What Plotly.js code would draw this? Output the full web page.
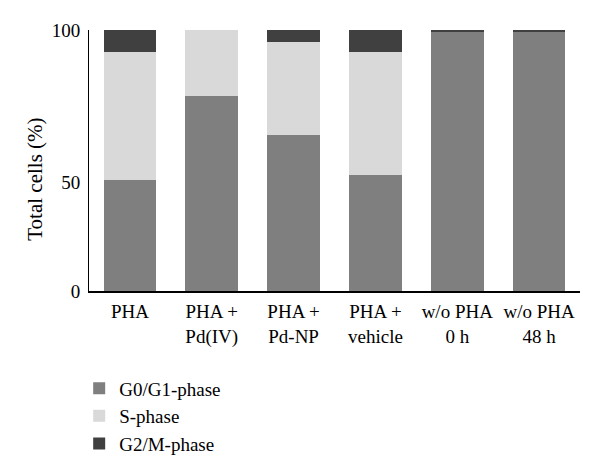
<!DOCTYPE html>
<html><head><meta charset="utf-8">
<script src="https://cdn.plot.ly/plotly-3.0.1.min.js"></script>
<style>html,body{margin:0;padding:0;background:#fff}</style>
</head><body>
<div id="chart" style="width:600px;height:475px"></div>
<script>
const categories = ["PHA", "PHA +<br>Pd(IV)", "PHA +<br>Pd-NP", "PHA +<br>vehicle", "w/o PHA<br>0 h", "w/o PHA<br>48 h"];
const g0g1 = [42.7, 74.8, 59.6, 44.5, 99.2, 99.2];
const sPhase = [49.0, 25.2, 35.7, 47.2, 0, 0];
const g2m = [8.3, 0, 4.7, 8.3, 0.8, 0.8];
const yTickVals = [0, 41.5, 100];
const yTickText = ["0", "50", "100"];

const font = {family: "Liberation Serif, Times New Roman, serif", size: 19, color: "#000"};
const traces = [
  {type: "bar", name: "G0/G1-phase", x: categories, y: g0g1, marker: {color: "#7f7f7f"}, legendgroup: "a"},
  {type: "bar", name: "S-phase", x: categories, y: sPhase, marker: {color: "#d9d9d9"}, legendgroup: "b"},
  {type: "bar", name: "G2/M-phase", x: categories, y: g2m, marker: {color: "#404040"}, legendgroup: "c"}
];
const layout = {
  width: 600, height: 475,
  margin: {l: 89, r: 20, t: 30, b: 182},
  barmode: "stack", bargap: 0.355,
  paper_bgcolor: "#fff", plot_bgcolor: "#fff",
  font: font,
  showlegend: true,
  legend: {x: -0.02, y: -0.30, xanchor: "left", yanchor: "top", traceorder: "normal", tracegroupgap: 0, font: font, bgcolor: "rgba(0,0,0,0)"},
  xaxis: {showline: true, linecolor: "#000", linewidth: 1.5, ticks: "", tickfont: font, showgrid: false, zeroline: false, fixedrange: true, ticklabelstandoff: 3},
  yaxis: {range: [0, 100], tickvals: yTickVals, ticktext: yTickText, showline: true, linecolor: "#000", linewidth: 1, ticks: "", showgrid: false, zeroline: false, tickfont: font, ticklabelstandoff: 4},
  annotations: [{text: "Total cells (%)", xref: "paper", yref: "paper", x: -0.11, y: 0.43, textangle: -90, showarrow: false, font: {family: font.family, size: 21, color: "#000"}, xanchor: "center", yanchor: "middle"}]
};
Plotly.newPlot("chart", traces, layout, {displayModeBar: false, staticPlot: true});
</script>
</body></html>
